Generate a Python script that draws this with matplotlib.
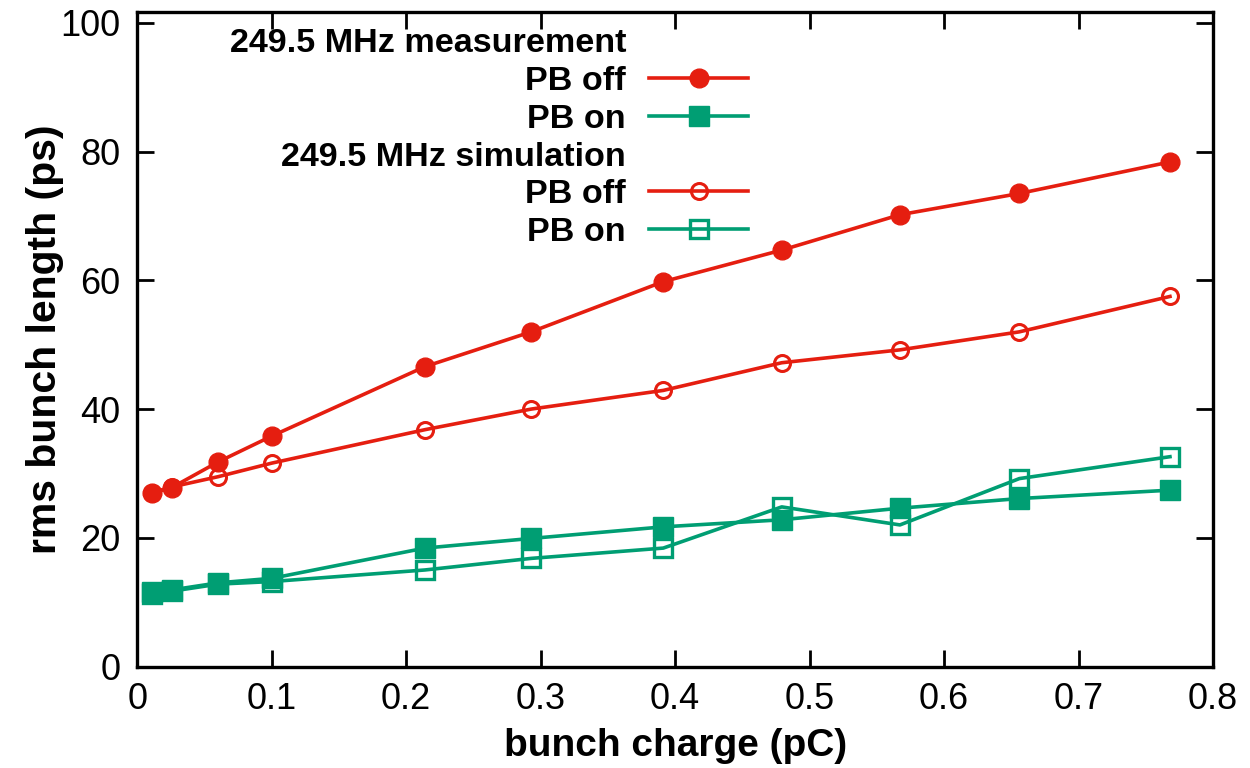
import matplotlib
matplotlib.use("Agg")
import matplotlib.pyplot as plt
from matplotlib.lines import Line2D

# ---- data ----
charge = [0.0108, 0.0257, 0.0603, 0.1000, 0.2140, 0.2930, 0.3912, 0.4793, 0.5672, 0.6560, 0.7680]
meas_pb_off = [26.9, 27.8, 31.8, 35.8, 46.6, 52.0, 59.8, 64.7, 70.2, 73.5, 78.4]
meas_pb_on = [11.6, 11.9, 13.0, 13.7, 18.4, 19.9, 21.7, 22.8, 24.6, 26.1, 27.4]
sim_pb_off = [27.0, 27.9, 29.5, 31.6, 36.8, 40.0, 42.9, 47.2, 49.2, 52.0, 57.5]
sim_pb_on = [11.2, 11.7, 12.8, 13.2, 15.0, 16.8, 18.4, 24.8, 22.0, 29.2, 32.6]

labels = ["249.5 MHz measurement", "PB off", "PB on",
          "249.5 MHz simulation", "PB off", "PB on"]
xticks = [0, 0.1, 0.2, 0.3, 0.4, 0.5, 0.6, 0.7, 0.8]
xticklabels = ["0", "0.1", "0.2", "0.3", "0.4", "0.5", "0.6", "0.7", "0.8"]
yticks = [0, 20, 40, 60, 80, 100]

RED = "#e51e10"
GREEN = "#009e73"

plt.rcParams['font.family'] = ['Liberation Sans', 'DejaVu Sans']

fig = plt.figure(figsize=(12.5, 7.68), dpi=100)
ax = fig.add_axes([137.2/1250, 1-666.5/768, (1213-137.2)/1250, (666.5-12)/768])

lw = 2.6
l1, = ax.plot(charge, meas_pb_off, color=RED, lw=lw, marker='o', ms=13.5, mew=1,
              mfc=RED, mec=RED)
l2, = ax.plot(charge, meas_pb_on, color=GREEN, lw=lw, marker='s', ms=14, mew=1,
              mfc=GREEN, mec=GREEN)
l3, = ax.plot(charge, sim_pb_off, color=RED, lw=lw, marker='o', ms=11.5, mew=2.2,
              mfc='none', mec=RED)
l4, = ax.plot(charge, sim_pb_on, color=GREEN, lw=lw, marker='s', ms=12.8, mew=2.4,
              mfc='none', mec=GREEN)

ax.set_xlim(0, 0.8)
ax.set_ylim(0, 101.7)
ax.set_xticks(xticks)
ax.set_xticklabels(xticklabels)
ax.set_yticks(yticks)

for s in ax.spines.values():
    s.set_linewidth(2.4)
ax.tick_params(direction='in', top=True, right=True, length=12.5, width=2,
               labelsize=26, pad=11)
ax.tick_params(axis='y', pad=12)

ax.set_xlabel("bunch charge (pC)", fontsize=28, fontweight='bold')
ax.set_ylabel("rms bunch length (ps)", fontsize=29.5, fontweight='bold')
ax.xaxis.set_label_coords(0.5, -0.094)
ax.yaxis.set_label_coords(-0.068, 0.5)

blank = Line2D([], [], linestyle='None', marker='None')
handles = [blank, l1, l2, blank, l3, l4]
leg = ax.legend(handles, labels, loc='upper right',
                bbox_to_anchor=(748/1250, 1-28/768), bbox_transform=fig.transFigure,
                frameon=False, markerfirst=False, numpoints=1,
                handlelength=2.89, handletextpad=0.68, labelspacing=0.2,
                borderpad=0, borderaxespad=0,
                prop={'size': 24.6, 'weight': 'bold'})

fig.savefig("out.png", dpi=100)
